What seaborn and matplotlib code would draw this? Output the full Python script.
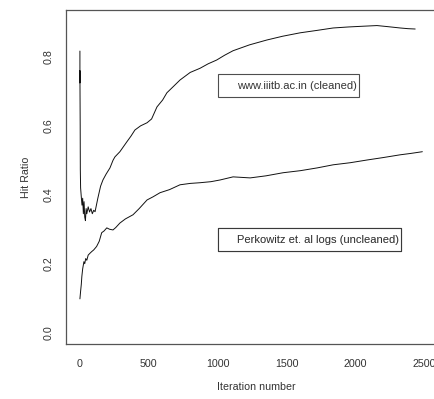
import numpy as np
import pandas as pd
import seaborn as sns
import matplotlib.pyplot as plt
from matplotlib.lines import Line2D

# valores (iteracao, hit ratio)
iter_limpo = [0, 0, 0, 0, 2, 3, 5, 10, 15, 20, 25, 30, 35, 40, 45, 50, 60, 70, 80, 90,
              100, 110, 130, 150, 167, 190, 218, 240, 254, 290, 341, 370, 399, 440, 487,
              520, 559, 600, 631, 680, 726, 800, 871, 930, 992, 1050, 1111, 1230, 1355,
              1470, 1598, 1720, 1837, 1950, 2050, 2155, 2230, 2323, 2380, 2432]
hit_limpo = [0.817, 0.777, 0.725, 0.76, 0.60, 0.472, 0.42, 0.394, 0.37, 0.39, 0.345, 0.38,
             0.335, 0.325, 0.36, 0.345, 0.365, 0.35, 0.36, 0.345, 0.355, 0.351, 0.39, 0.425,
             0.443, 0.46, 0.478, 0.50, 0.51, 0.525, 0.554, 0.57, 0.588, 0.60, 0.609,
             0.62, 0.655, 0.675, 0.696, 0.715, 0.733, 0.755, 0.767, 0.78, 0.791, 0.805, 0.818,
             0.835, 0.849, 0.86, 0.87, 0.877, 0.884, 0.887, 0.889, 0.891, 0.888, 0.884, 0.882,
             0.881]

iter_sujo = [0, 5, 10, 14, 20, 29, 35, 42, 50, 60, 72, 85, 100, 121, 140, 158, 175, 195,
             215, 240, 260, 290, 330, 385, 430, 487, 530, 581, 650, 726, 800, 871, 950,
             1017, 1111, 1235, 1350, 1474, 1600, 1721, 1837, 1960, 2084, 2200, 2323, 2400,
             2484]
hit_sujo = [0.098, 0.12, 0.14, 0.163, 0.185, 0.206, 0.20, 0.215, 0.21, 0.225, 0.23, 0.235,
            0.24, 0.25, 0.265, 0.29, 0.295, 0.304, 0.30, 0.298, 0.305, 0.318, 0.33, 0.342,
            0.36, 0.385, 0.394, 0.406, 0.415, 0.429, 0.433, 0.435, 0.438, 0.443, 0.452,
            0.449, 0.455, 0.464, 0.47, 0.478, 0.487, 0.493, 0.501, 0.508, 0.516, 0.52,
            0.525]

rotulos = ['www.iiitb.ac.in (cleaned)', 'Perkowitz et. al logs (uncleaned)']

df_limpo = pd.DataFrame({'iter': iter_limpo, 'hit': hit_limpo})
df_sujo = pd.DataFrame({'iter': iter_sujo, 'hit': hit_sujo})

sns.set_style('white')
plt.rcParams['font.family'] = ['Liberation Sans', 'DejaVu Sans']

fig = plt.figure(figsize=(4.35, 3.99), dpi=100)
ax = fig.add_axes([0.1517, 0.1378, 0.875, 0.837])

sns.lineplot(data=df_limpo, x='iter', y='hit', estimator=None, sort=False,
             color='#111111', linewidth=0.7, ax=ax)
sns.lineplot(data=df_sujo, x='iter', y='hit', estimator=None, sort=False,
             color='#111111', linewidth=0.7, ax=ax)

ax.set_xlim(-101, 2660)
ax.set_ylim(-0.033, 0.936)
ax.set_xticks([0, 500, 1000, 1500, 2000, 2500])
ax.set_yticks([0.0, 0.2, 0.4, 0.6, 0.8])
ax.set_yticklabels(['0.0', '0.2', '0.4', '0.6', '0.8'], rotation=90, va='center')
ax.tick_params(axis='x', length=5, width=0.8, pad=6, labelsize=7.7, colors='#555555',
               labelcolor='#333333')
ax.tick_params(axis='y', length=5, width=0.8, pad=4, labelsize=7.7, colors='#555555',
               labelcolor='#333333')
for s in ax.spines.values():
    s.set_color('#555555')
    s.set_linewidth(0.9)

ax.set_xlabel('Iteration number', fontsize=7.7, color='#333333', labelpad=9)
ax.set_ylabel('Hit Ratio', fontsize=7.7, color='#333333', labelpad=9)

# caixas de legenda estilo R
vazio = Line2D([], [], linestyle='none')
posicoes = [(1002, 0.751), (1002, 0.304)]
for rot, pos in zip(rotulos, posicoes):
    leg = ax.legend([vazio], [rot], loc='upper left', bbox_to_anchor=pos,
                    bbox_transform=ax.transData, frameon=True, fancybox=False,
                    fontsize=8, handlelength=1.1, handletextpad=0.4, handleheight=2.2,
                    borderpad=0.2, borderaxespad=0)
    leg.get_frame().set_edgecolor('#222222')
    leg.get_frame().set_linewidth(0.8)
    for t in leg.get_texts():
        t.set_color('#333333')
    ax.add_artist(leg)

fig.savefig('out.png', dpi=100)
